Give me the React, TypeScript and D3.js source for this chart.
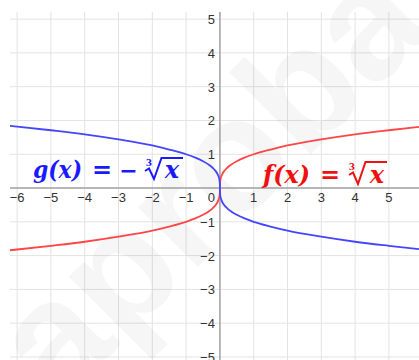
import React from "react";
import * as d3 from "d3";

// values: f(x) = cube root of x, g(x) = minus it
const xs = [-6.3, -6, -5, -4, -3, -2, -1.5, -1, -0.729, -0.512, -0.343, -0.216, -0.125, -0.064, -0.027, -0.008, -0.001, 0,
	0.001, 0.008, 0.027, 0.064, 0.125, 0.216, 0.343, 0.512, 0.729, 1, 1.5, 2, 3, 4, 5, 6, 6.3];
const fValues = [-1.85, -1.82, -1.71, -1.59, -1.44, -1.26, -1.14, -1, -0.9, -0.8, -0.7, -0.6, -0.5, -0.4, -0.3, -0.2, -0.1, 0,
	0.1, 0.2, 0.3, 0.4, 0.5, 0.6, 0.7, 0.8, 0.9, 1, 1.14, 1.26, 1.44, 1.59, 1.71, 1.82, 1.85];
const gValues = [1.85, 1.82, 1.71, 1.59, 1.44, 1.26, 1.14, 1, 0.9, 0.8, 0.7, 0.6, 0.5, 0.4, 0.3, 0.2, 0.1, 0,
	-0.1, -0.2, -0.3, -0.4, -0.5, -0.6, -0.7, -0.8, -0.9, -1, -1.14, -1.26, -1.44, -1.59, -1.71, -1.82, -1.85];

const xTicks = [-6, -5, -4, -3, -2, -1, 1, 2, 3, 4, 5];
const yTicks = [-5, -4, -3, -2, -1, 1, 2, 3, 4, 5];
const xGrid = [-6, -5, -4, -3, -2, -1, 0, 1, 2, 3, 4, 5];
const yGrid = [-5, -4, -3, -2, -1, 0, 1, 2, 3, 4, 5];

const width = 419;
const height = 360;
const left = 10, top = 12;

const fmt = (v: number) => (v < 0 ? "\u2212" + Math.abs(v) : String(v));

export default function App() {
	const x = d3.scaleLinear().domain([-6.21, 5.89]).range([left, width]);
	const y = d3.scaleLinear().domain([5.21, -5.09]).range([top, height]);

	const line = d3.line<number>()
		.x((d, i) => x(xs[i]))
		.y(d => y(d))
		.curve(d3.curveMonotoneX);

	const math = { fontFamily: "'DejaVu Serif', serif", fontWeight: "bold", fontStyle: "italic" } as const;
	const tick = { fontFamily: "'Liberation Sans', Arial, sans-serif", fontSize: 13, fill: "#333" } as const;

	return (
		<svg width={width} height={height} style={{ position: "absolute", left: 0, top: 0, background: "#fff" }}>
			<defs>
				<clipPath id="plot">
					<rect x={left} y={top} width={width - left} height={height - top} />
				</clipPath>
			</defs>
			{/* grid */}
			<g stroke="#e3e3e3" strokeWidth={1}>
				{xGrid.map(v => <line key={"gx" + v} x1={x(v)} x2={x(v)} y1={top} y2={height} />)}
				{yGrid.map(v => <line key={"gy" + v} x1={left} x2={width} y1={y(v)} y2={y(v)} />)}
			</g>
			{/* watermark */}
			<text transform="translate(-5,470) rotate(-45)" fontFamily="'Liberation Sans', sans-serif" fontWeight="bold"
				fontSize={160} fill="#000" fillOpacity={0.035}>saprobar</text>
			{/* axes */}
			<g stroke="#a3a3a3" strokeWidth={1.5}>
				<line x1={left} x2={width} y1={y(0)} y2={y(0)} />
				<line x1={x(0)} x2={x(0)} y1={top} y2={height} />
			</g>
			{xTicks.map(v => (
				<text key={"tx" + v} x={x(v)} y={y(0) + 14} textAnchor="middle" style={tick}>{fmt(v)}</text>
			))}
			<text x={x(0) - 5} y={y(0) + 14} textAnchor="end" style={tick}>0</text>
			{yTicks.map(v => (
				<text key={"ty" + v} x={x(0) - 5} y={y(v) + 5} textAnchor="end" style={tick}>{fmt(v)}</text>
			))}
			{/* curves */}
			<g clipPath="url(#plot)" fill="none" strokeWidth={1.8}>
				<path d={line(fValues) || ""} stroke="#ff4545" />
				<path d={line(gValues) || ""} stroke="#4545ff" />
			</g>
			{/* g(x) label */}
			<g fill="#1a1aff" style={math}>
				<text x={33} y={178} fontSize={24} textLength={49} lengthAdjust="spacingAndGlyphs">g(x)</text>
				<text x={102} y={178} fontSize={24} textAnchor="middle" fontStyle="normal">=</text>
				<text x={128.5} y={178} fontSize={22} textAnchor="middle" style={{ fontFamily: "'DejaVu Sans', sans-serif", fontStyle: "normal", fontWeight: "bold" }}>{"\u2212"}</text>
				<text x={149} y={166} fontSize={9} textAnchor="middle" fontStyle="normal">3</text>
				<path d="M145,171 L149,168.5 L154,179 L161.5,158 L183,158" fill="none" stroke="#1a1aff" strokeWidth={2} strokeLinejoin="miter" />
				<text x={172} y={178} fontSize={24} textAnchor="middle">x</text>
			</g>
			{/* f(x) label */}
			<g fill="#ee1111" style={math}>
				<text x={263} y={183} fontSize={24} textLength={47} lengthAdjust="spacingAndGlyphs">f(x)</text>
				<text x={330} y={183} fontSize={24} textAnchor="middle" fontStyle="normal">=</text>
				<text x={352} y={170} fontSize={9} textAnchor="middle" fontStyle="normal">3</text>
				<path d="M349,175 L353,172.5 L358,184 L365.5,162 L387,162" fill="none" stroke="#ee1111" strokeWidth={2} strokeLinejoin="miter" />
				<text x={377} y={183} fontSize={24} textAnchor="middle">x</text>
			</g>
		</svg>
	);
}
